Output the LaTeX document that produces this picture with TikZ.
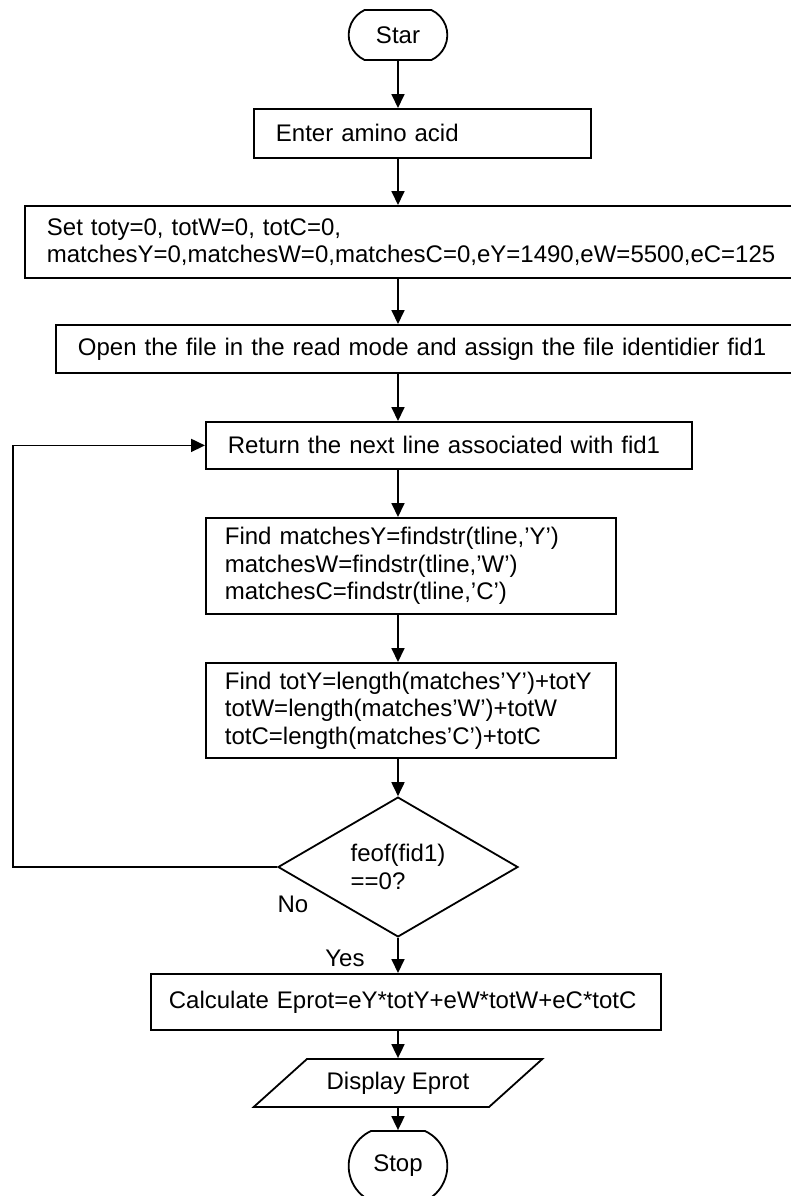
\documentclass[tikz,border=0pt]{standalone}
\usepackage{fontspec}
\setmainfont{Liberation Sans}
\usetikzlibrary{arrows.meta,shapes.geometric,shapes.misc}

\begin{document}
\begin{tikzpicture}[x=0.5pt,y=-0.5pt,line width=0.9pt,font=\fontsize{12}{13.75}\selectfont,
    arr/.style={-{Triangle[length=7pt,width=6.5pt]}},
    box/.style={draw,rectangle,anchor=north west,align=left,inner ysep=0pt},
    term/.style={draw,rounded rectangle,rounded rectangle arc length=130,minimum width=56pt}]
  \useasboundingbox (0,0) rectangle (791,1196);
  \coordinate (ax) at (398,0);
  \coordinate (lp) at (13,0);

  \node[term,minimum height=25pt] (start) at (398,35) {Star};
  \node[box,minimum height=24.5pt,inner xsep=11pt,text width=146.5pt] (enter) at (253,108) {Enter amino acid};
  \node[box,minimum height=36pt,inner xsep=11pt,text width=364.5pt] (init) at (24,205)
    {Set toty=0, totW=0, totC=0,\\matchesY=0,matchesW=0,matchesC=0,eY=1490,eW=5500,eC=125};
  \node[box,minimum height=24pt,inner xsep=11pt,text width=350.5pt] (open) at (55,324)
    {Open the file in the read mode and assign the file identidier fid1};
  \node[box,minimum height=23.5pt,inner xsep=11pt,text width=221pt] (next) at (205,421)
    {Return the next line associated with fid1};
  \node[box,minimum height=48pt,inner xsep=9.5pt,text width=186pt] (find) at (205,517)
    {Find matchesY=findstr(tline,'Y')\\matchesW=findstr(tline,'W')\\matchesC=findstr(tline,'C')};
  \node[box,minimum height=47.5pt,inner xsep=9.5pt,text width=186pt] (tot) at (205,662)
    {Find totY=length(matches'Y')+totY\\totW=length(matches'W')+totW\\totC=length(matches'C')+totC};
  \node[draw,diamond,minimum width=120pt,minimum height=62pt,inner sep=0pt,align=left] (dia) at (398,867)
    {feof(fid1)\\==0?};
  \node[box,minimum height=28pt,inner xsep=9pt,text width=237pt] (calc) at (150,973)
    {Calculate Eprot=eY*totY+eW*totW+eC*totC};
  \node[draw,trapezium,trapezium left angle=38,trapezium right angle=142,trapezium stretches=true,
    minimum width=144.5pt,minimum height=24pt] (disp) at (398,1083) {Display Eprot};
  \node[term,minimum height=35pt] (stop) at (398,1166) {Stop};

  \foreach \a/\b in {start/enter,enter/init,init/open,open/next,next/find,find/tot,tot/dia,dia/calc,calc/disp,disp/stop}
    \draw[arr] (ax|-\a.south) -- (ax|-\b.north);
  \draw[arr] (dia.west) -- (dia.west-|lp) |- (next.west);
  \node (no) at (293,904) {No};
  \node (yes) at (345,958) {Yes};
\end{tikzpicture}
\end{document}
